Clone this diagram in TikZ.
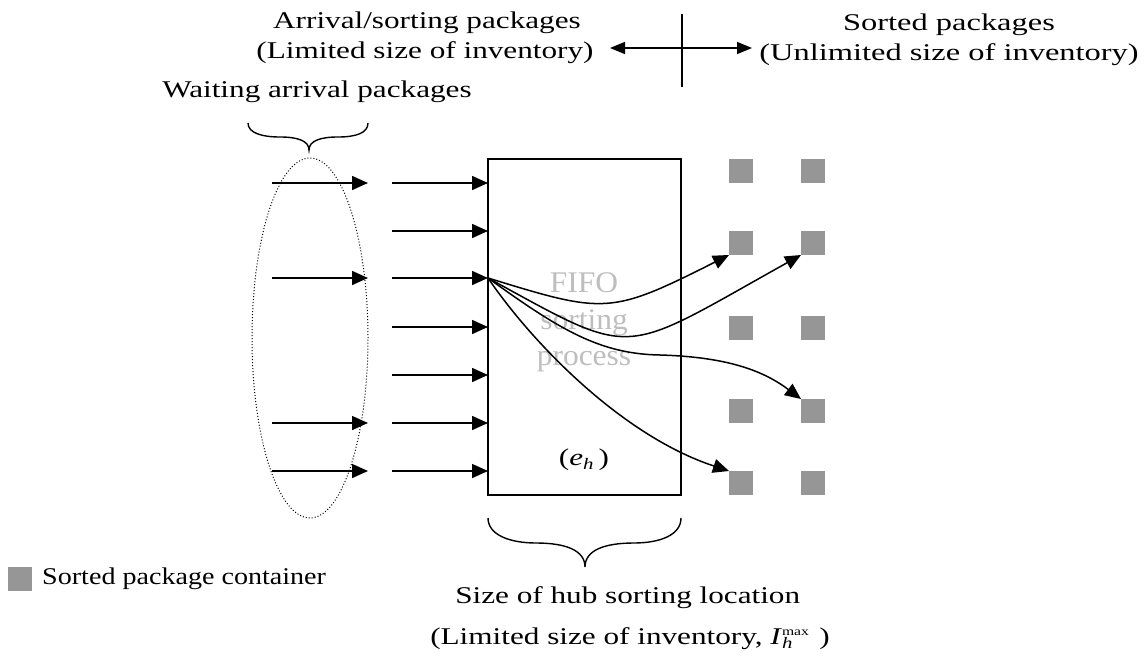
\documentclass[tikz,border=0pt]{standalone}
\usepackage{fontspec}
\setmainfont{Liberation Serif}
\usetikzlibrary{arrows.meta,shapes.geometric}

\definecolor{bingray}{RGB}{150,150,150}
\definecolor{fifogray}{RGB}{190,190,190}
\newcommand\subsz{\fontsize{16}{16}\selectfont}
\newcommand\supsz{\fontsize{12}{12}\selectfont}

\begin{document}
\begin{tikzpicture}[x=1pt,y=-1pt,
  txt/.style={inner sep=0pt, anchor=base, font=\fontsize{24}{28}\selectfont, xscale=1.3},
  fifotxt/.style={inner sep=0pt, anchor=base, text=fifogray, font=\fontsize{30}{34}\selectfont, xscale=1.05},
  flow/.style={line width=1.5pt, -{Triangle[length=16pt,width=14pt]}},
  dbl/.style={line width=1.5pt, {Triangle[length=15pt,width=12pt]}-{Triangle[length=15pt,width=12pt]}},
  bin/.style={fill=bingray, draw=none, minimum size=24pt, inner sep=0pt, outer sep=0pt},
  brace/.style={line width=1.4pt},
  hubbox/.style={draw, line width=1.5pt, minimum width=193pt, minimum height=336pt, inner sep=0pt, outer sep=0pt},
  queuebox/.style={ellipse, draw, line width=1pt, dash pattern=on 1pt off 2pt,
    minimum width=116pt, minimum height=360pt, inner sep=0pt},
]
\useasboundingbox (0,0) rectangle (1145,663);

% headings and the divider
\node[txt] (t1) at (427,29) {Arrival/sorting packages};
\node[txt] (t2) at (425,59) {(Limited size of inventory)};
\node[txt, xscale=1.04] (t3) at (949,31) {Sorted packages};
\node[txt, xscale=1.04] (t4) at (949,61) {(Unlimited size of inventory)};
\coordinate (dl) at (610,48);
\coordinate (dr) at (752,48);
\coordinate (vt) at (682,14);
\coordinate (vb) at (682,87);
\draw[dbl] (dl) -- (dr);
\draw[line width=1.5pt] (vt) -- (vb);

% waiting queue
\node[txt] (wait) at (317,98) {Waiting arrival packages};
\draw[brace] (248,123) .. controls (248,133) and (262,137) .. (280,137)
  .. controls (298,137) and (309,141) .. (309,150)
  .. controls (309,141) and (320,137) .. (338,137)
  .. controls (356,137) and (368,133) .. (368,123);
\node[queuebox] (queue) at (310,338) {};

% sorting location
\node[hubbox] (hub) at (584.5,327) {};
\node[fifotxt] (f1) at (584,292) {FIFO};
\node[fifotxt] (f2) at (584,329) {sorting};
\node[fifotxt] (f3) at (584,365) {process};
\node[txt] (eh) at (584,465) {(\textit{e}\raisebox{-0.4ex}{\subsz\textit{h}}\,)};

% arrivals
\foreach \i/\y in {1/183,3/278,6/423,7/471}{
  \coordinate (a\i) at (272,\y);
  \coordinate (q\i) at (368,\y);
  \draw[flow] (a\i) -- (q\i);
}
\foreach \i/\y in {1/183,2/231,3/278,4/327,5/375,6/423,7/471}{
  \coordinate (m\i) at (392,\y);
  \coordinate (h\i) at (488,\y);
  \draw[flow] (m\i) -- (h\i);
}

% sorted package containers
\foreach \c/\x in {1/741,2/813}{
  \foreach \r/\y in {1/171,2/243,3/328,4/411,5/483}{
    \node[bin] (b\c\r) at (\x,\y) {};
  }
}

% sorting flows
\draw[flow] (h3) .. controls (605,314) and (610,315) .. (b12.south west);
\draw[flow] (h3) .. controls (638,360) and (618,357) .. (b22.south west);
\draw[flow] (h3) .. controls (560,330) and (600,354) .. (660,355)
  .. controls (730,357) and (765,372) .. (b24.north west);
\draw[flow] (h3) .. controls (530,340) and (620,435) .. (b15.north west);

% size of the sorting location
\draw[brace] (488,518) .. controls (488,535) and (510,543) .. (536,543)
  .. controls (565,543) and (585,550) .. (585,567)
  .. controls (585,550) and (605,543) .. (634,543)
  .. controls (660,543) and (681,535) .. (681,518);
\node[txt, anchor=base west] (s1) at (455,603) {Size of hub sorting location};
\node[txt, anchor=base west] (s2) at (430,644) {(Limited size of inventory, \textit{I}\rlap{\raisebox{-0.45ex}{\subsz\textit{h}}}\raisebox{0.8ex}{\supsz max}\,\,)};

% legend
\node[bin] (key) at (20,579) {};
\node[txt, anchor=base west, xscale=0.9] (keytext) at (42,584) {Sorted package container};
\end{tikzpicture}
\end{document}
